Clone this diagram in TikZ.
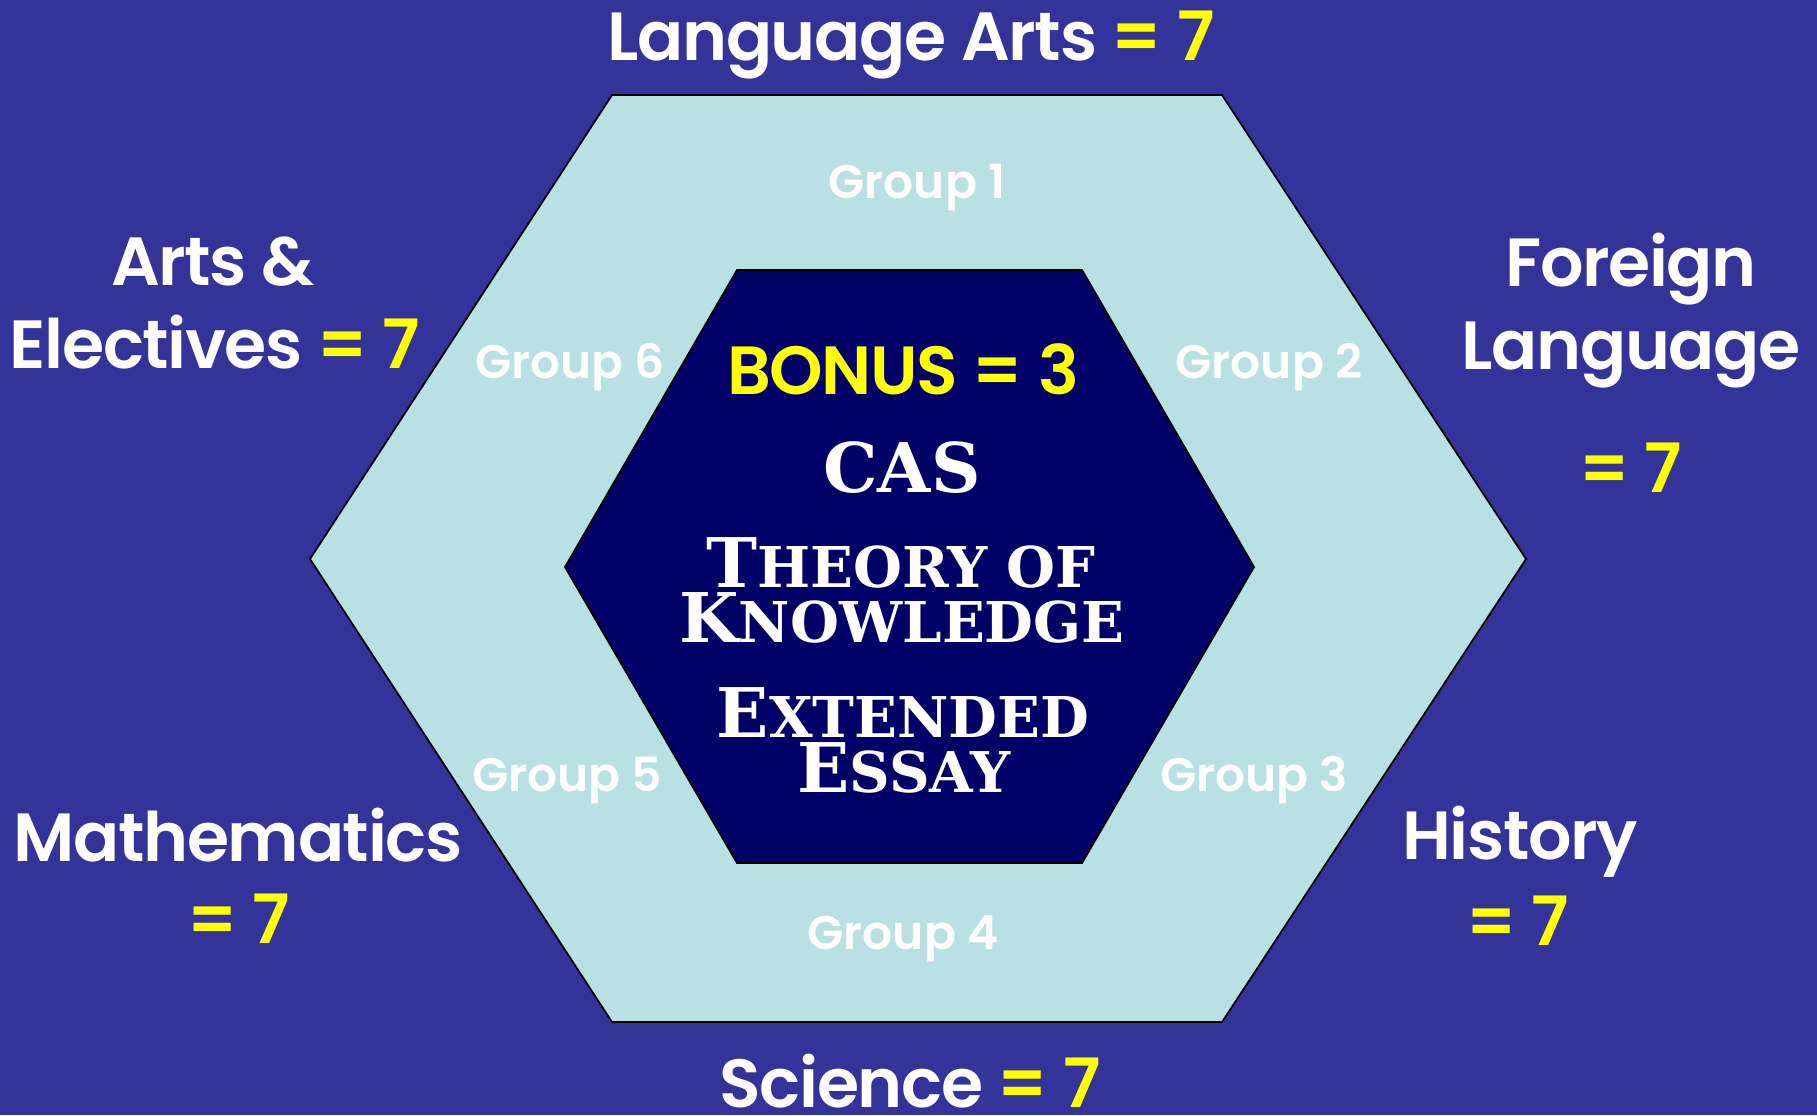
\documentclass[tikz,border=0pt]{standalone}
\usepackage{fontspec}
\setmainfont{Poppins}[BoldFont={Poppins SemiBold}]
\newfontfamily\copperfont{DejaVu Serif}
\usetikzlibrary{positioning}
\definecolor{slideblue}{HTML}{333399}
\definecolor{paleteal}{HTML}{B9E0E3}
\definecolor{corenavy}{HTML}{000066}
\definecolor{pointyellow}{HTML}{FFFF00}
\newcommand{\pts}[1]{{\color{pointyellow}#1}}
\newcommand{\scword}[2]{#1{\fontsize{16}{16}\selectfont #2}}

\begin{document}
\begin{tikzpicture}[x=0.1mm, y=-0.1mm]
\tikzstyle{every node}=[inner sep=0pt, text=white, anchor=base]
\tikzstyle{subject}=[font=\fontsize{19.4}{24}\selectfont\bfseries\addfontfeature{LetterSpace=-2}]
\tikzstyle{grp}=[font=\fontsize{13.4}{16}\selectfont\bfseries]
\tikzstyle{core}=[font=\fontsize{19.5}{22}\selectfont\copperfont\bfseries]
\fill[slideblue] (0,0) rectangle (1817,1115);
\useasboundingbox (0,0) rectangle (1817,1115);

% the two hexagons
\coordinate (o1) at (612,95);   \coordinate (o2) at (1222,95);
\coordinate (o3) at (1526,559); \coordinate (o4) at (1222,1022);
\coordinate (o5) at (612,1022); \coordinate (o6) at (310,559);
\coordinate (i1) at (737,270);  \coordinate (i2) at (1082,270);
\coordinate (i3) at (1254,567); \coordinate (i4) at (1082,863);
\coordinate (i5) at (737,863);  \coordinate (i6) at (565,567);
\draw[fill=paleteal, line width=0.5pt] (o1) -- (o2) -- (o3) -- (o4) -- (o5) -- (o6) -- cycle;
\draw[fill=corenavy, line width=0.5pt] (i1) -- (i2) -- (i3) -- (i4) -- (i5) -- (i6) -- cycle;

% subjects round the outside
\node[subject] (langarts) at (911,60) {Language Arts \pts{= 7}};
\node[subject] (arts) at (213,285) {Arts \&};
\node[subject] (elect) at (215,368) {Electives \pts{= 7}};
\node[subject] (forgn) at (1631,286) {Foreign};
\node[subject] (lang) at (1631,369) {Language};
\node[subject] (lang7) at (1631,492) {\pts{= 7}};
\node[subject] (math) at (238,861) {Mathematics};
\node[subject] (math7) at (239,943) {\pts{= 7}};
\node[subject] (hist) at (1520,859) {History};
\node[subject] (hist7) at (1518,945) {\pts{= 7}};
\node[subject] (sci) at (910,1107) {Science \pts{= 7}};

% group labels on the pale ring
\foreach \n/\x/\y in {1/917/198, 2/1269/378, 3/1254/791, 4/903/949, 5/567/791, 6/570/378}
  \node[grp] (g\n) at (\x,\y) {Group \n};

% the core
\node[subject] (bonus) at (903,394) {\pts{BONUS = 3}};
\node[core] (cas) at (902,492) {CAS};
\node[core] (tok1) at (901,587) {\scword{T}{HEORY OF}};
\node[core] (tok2) at (902,642) {\scword{K}{NOWLEDGE}};
\node[core] (ee1) at (903,737) {\scword{E}{XTENDED}};
\node[core] (ee2) at (904,792) {\scword{E}{SSAY}};
\end{tikzpicture}
\end{document}
